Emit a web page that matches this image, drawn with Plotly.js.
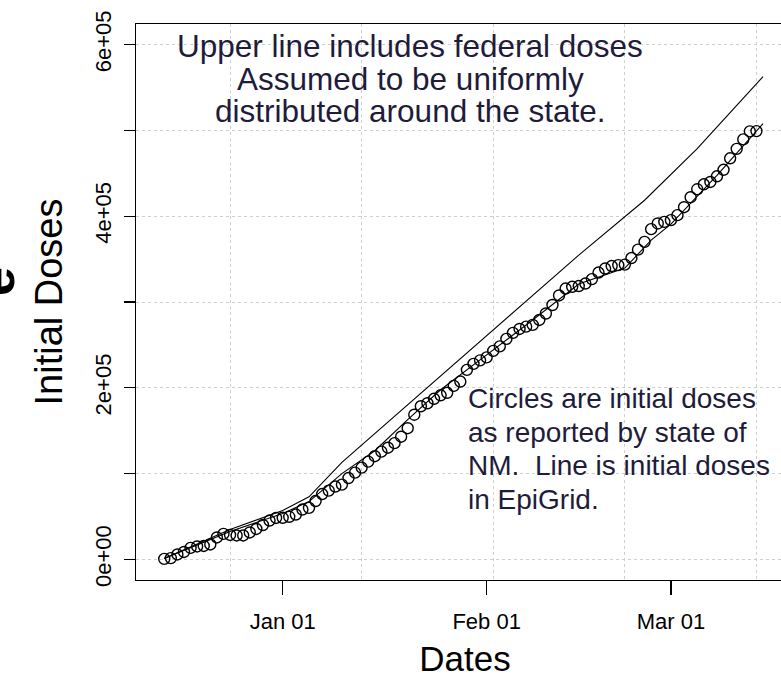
<!DOCTYPE html>
<html>
<head>
<meta charset="utf-8">
<script src="https://cdn.plot.ly/plotly-3.0.1.min.js"></script>
<style>
html, body { margin: 0; padding: 0; overflow: hidden; background: #ffffff; }
#chart { width: 794px; height: 689px; }
</style>
</head>
<body>
<div id="chart"></div>
<script>
// ---- data ----
var circleStart = '2020-12-14';
var circleValues = [
  600, 1500, 5800, 8700, 13400, 15100, 15700, 17400, 25600, 29700,
  28500, 27900, 27900, 31400, 35500, 40100, 45300, 48300,
  48500, 49700, 52300, 58100, 60100, 68000, 76200, 80200, 84900, 87200,
  94800, 101200, 107000, 114000, 120300, 125600, 130200, 135500, 143000, 152900,
  168600, 178500, 182000, 187200, 191300, 194200, 202300, 207300, 220900, 227900,
  232000,
  235500, 243000, 248300, 257000, 264000, 268600, 271300, 273300, 279100, 286600,
  296500, 307600, 315700, 317700, 318600, 321500, 326700, 334300, 339000, 341900,
  343000, 343600, 351200, 361000, 370100, 384900, 391500, 393400,
  395400, 401200, 410500, 422100, 431400, 437200, 439900, 446500, 454100, 467500,
  478500, 489500, 498800, 499200
];

var upperDates = ['2020-12-14','2020-12-24','2021-01-01','2021-01-05','2021-01-10',
                  '2021-02-01','2021-02-15','2021-02-25','2021-03-05','2021-03-15'];
var upperValues = [1200, 34900, 57000, 73000, 113000, 261200, 354700, 418600, 478700, 562800];

var lowerDates = ['2020-12-14','2020-12-24','2021-01-01','2021-01-05','2021-01-10',
                  '2021-01-15','2021-01-20','2021-01-25','2021-02-01','2021-02-08',
                  '2021-02-15','2021-02-22','2021-02-26','2021-03-01','2021-03-08','2021-03-15'];
var lowerValues = [1200, 32600, 53500, 67400, 100000, 126700, 162800, 197700, 238400, 279000,
                   321000, 339500, 372100, 390700, 447700, 507800];

var xTickVals = ['2021-01-01', '2021-02-01', '2021-03-01'];
var xTickText = ['Jan 01', 'Feb 01', 'Mar 01'];
var xGridVals = ['2020-12-24', '2021-01-13', '2021-02-02', '2021-02-22', '2021-03-14'];
var yTickVals = [0, 100000, 200000, 300000, 400000, 500000, 600000];
var yTickText = ['0e+00', '', '2e+05', '', '4e+05', '', '6e+05'];

var noteTop = ['Upper line includes federal doses', 'Assumed to be uniformly', 'distributed around the state.'];
var noteBottom = ['Circles are initial doses', 'as reported by state of', 'NM.\u00a0 Line is initial doses', 'in EpiGrid.'];

// daily dates for the circles
function dailyDates(start, n) {
  var out = [];
  var d0 = new Date(start + 'T00:00:00Z');
  for (var i = 0; i < n; i++) {
    var d = new Date(d0.getTime() + i * 86400000);
    out.push(d.toISOString().slice(0, 10));
  }
  return out;
}
var circleDates = dailyDates(circleStart, circleValues.length);

// ---- layout helpers (pixel geometry of the page) ----
var W = 794, H = 689, L = 136, R = 0, T = 24, B = 109;
function px2x(px) { return (px - L) / (W - L - R); }
function py2y(py) { return (H - B - py) / (H - T - B); }

var FONT = 'Liberation Sans, Arial, Helvetica, sans-serif';
var NOTE_COLOR = '#1e1c3a';

var annotations = [];
var topY = [46, 79, 111];
noteTop.forEach(function (t, i) {
  annotations.push({
    text: t, xref: 'paper', yref: 'paper', x: px2x(410), y: py2y(topY[i]),
    xanchor: 'center', yanchor: 'middle', showarrow: false,
    font: { family: FONT, size: 31.5, color: NOTE_COLOR }
  });
});
var botY = [398, 432, 466, 499];
noteBottom.forEach(function (t, i) {
  annotations.push({
    text: t, xref: 'paper', yref: 'paper', x: px2x(466), y: py2y(botY[i]),
    xanchor: 'left', yanchor: 'middle', showarrow: false,
    font: { family: FONT, size: 28, color: NOTE_COLOR }
  });
});
// cropped bold letter at the very left edge of the picture
annotations.push({
  text: '<b>e</b>', xref: 'paper', yref: 'paper', x: px2x(-4), y: py2y(282),
  xanchor: 'center', yanchor: 'middle', showarrow: false, textangle: -90,
  font: { family: FONT, size: 52, color: '#000000' }
});

var traces = [
  {
    x: upperDates, y: upperValues, type: 'scatter', mode: 'lines',
    line: { color: '#000000', width: 1.1 }, hoverinfo: 'skip', xaxis: 'x2', yaxis: 'y'
  },
  {
    x: lowerDates, y: lowerValues, type: 'scatter', mode: 'lines',
    line: { color: '#000000', width: 1.1 }, hoverinfo: 'skip'
  },
  {
    x: circleDates, y: circleValues, type: 'scatter', mode: 'markers',
    marker: { symbol: 'circle-open', size: 11, color: '#000000', line: { width: 1.4, color: '#000000' } },
    hoverinfo: 'skip'
  }
];

var xRange = ['2020-12-09 17:00', '2021-03-19 17:00'];

var layout = {
  width: W, height: H,
  margin: { l: L, r: R, t: T, b: B, pad: 0 },
  paper_bgcolor: '#ffffff', plot_bgcolor: '#ffffff',
  showlegend: false,
  font: { family: FONT, color: '#000000' },
  xaxis: {
    type: 'date', range: xRange,
    tickmode: 'array', tickvals: xTickVals, ticktext: xTickText,
    ticks: 'outside', ticklen: 14, tickwidth: 1.5, tickcolor: '#000000',
    ticklabelstandoff: 7,
    tickfont: { family: FONT, size: 22, color: '#000000' },
    showline: true, linecolor: '#000000', linewidth: 1.2, mirror: true,
    showgrid: false, zeroline: false,
    title: { text: 'Dates', font: { family: FONT, size: 35, color: '#000000' }, standoff: 14 }
  },
  xaxis2: {
    type: 'date', matches: 'x', overlaying: 'x', anchor: 'y',
    tickmode: 'array', tickvals: xGridVals, showticklabels: false, ticks: '',
    showgrid: true, gridcolor: '#cfcfcf', griddash: 'dot', gridwidth: 1,
    showline: false, zeroline: false
  },
  yaxis: {
    range: [-24000, 624000],
    tickmode: 'array', tickvals: yTickVals, ticktext: yTickText, tickangle: -90,
    ticks: 'outside', ticklen: 11, tickwidth: 1.2, tickcolor: '#000000',
    ticklabelstandoff: 4,
    tickfont: { family: FONT, size: 22, color: '#000000' },
    showline: true, linecolor: '#000000', linewidth: 1.2, mirror: false,
    showgrid: true, gridcolor: '#cfcfcf', griddash: 'dot', gridwidth: 1,
    zeroline: false,
    title: { text: 'Initial Doses', font: { family: FONT, size: 38, color: '#000000' }, standoff: 16 }
  },
  annotations: annotations
};

Plotly.newPlot('chart', traces, layout, { displayModeBar: false, staticPlot: true });
</script>
</body>
</html>
